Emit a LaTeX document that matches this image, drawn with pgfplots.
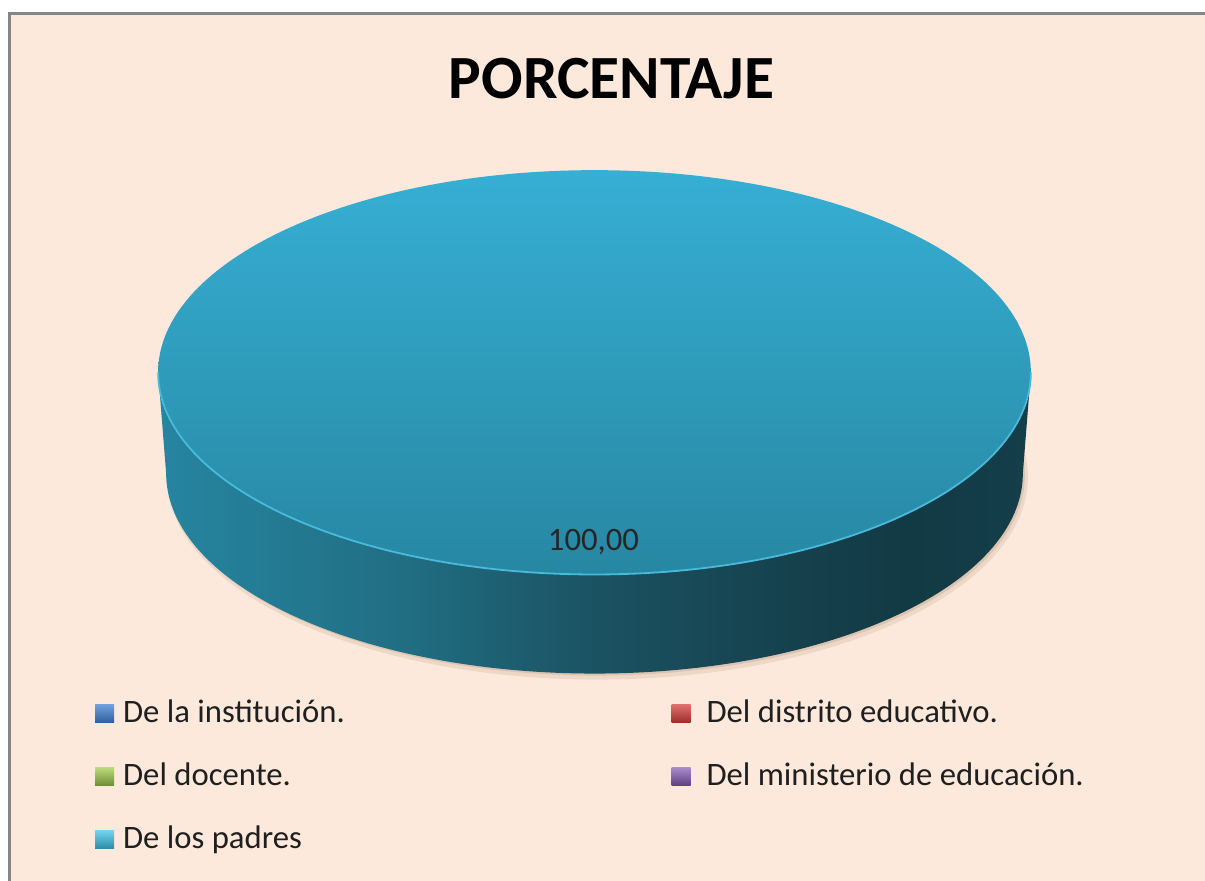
\documentclass[border=0pt]{standalone}
\usepackage{pgfplots}
\pgfplotsset{compat=1.18}
\usepackage{pgfplotstable}
\usepackage{fontspec}
\setmainfont{Carlito}
\definecolor{bg}{HTML}{FDE9DB}
\definecolor{frame}{HTML}{868686}
\definecolor{topA}{HTML}{36AFD4}
\definecolor{topB}{HTML}{2787A2}
\definecolor{rim}{HTML}{48BADC}
\definecolor{s1}{HTML}{2685A1}
\definecolor{s2}{HTML}{216E83}
\definecolor{s3}{HTML}{1B5262}
\definecolor{s4}{HTML}{15404C}
\definecolor{s5}{HTML}{123A45}
\definecolor{s6}{HTML}{143E4A}
\definecolor{shadowc}{HTML}{C9AE9C}
% legend marker colours (Office palette)
\definecolor{c1a}{HTML}{6FA0DC}\definecolor{c1b}{HTML}{2F5E9E}
\definecolor{c2a}{HTML}{E0706C}\definecolor{c2b}{HTML}{9B2E2B}
\definecolor{c3a}{HTML}{BCD97A}\definecolor{c3b}{HTML}{6E8E35}
\definecolor{c4a}{HTML}{A88ACB}\definecolor{c4b}{HTML}{5A4080}
\definecolor{c5a}{HTML}{72D3EE}\definecolor{c5b}{HTML}{2C8CA8}
\pgfdeclarehorizontalshading{sideshade}{100bp}{color(0bp)=(s1); color(25bp)=(s1); color(39bp)=(s2); color(50bp)=(s3); color(62bp)=(s4); color(68bp)=(s5); color(75bp)=(s6); color(100bp)=(s6)}

\pgfplotstableread{
slice value
1 0
2 0
3 0
4 0
5 100
}\slicetable

\begin{document}
\begin{tikzpicture}
\begin{axis}[
  scale only axis, width=602.5bp, height=440bp,
  xmin=0, xmax=1205, ymin=0, ymax=880,
  hide axis, clip=false,
  legend columns=2,
  legend cell align=left,
  legend image code/.code={\shade[#1, draw=none] (0bp,-4bp) rectangle (9.5bp,5bp);},
  legend style={draw=none, fill=none, inner sep=0pt, outer sep=0pt,
    at={(axis cs:95,182)}, anchor=north west, row sep=15.5bp,
    nodes={inner sep=0pt, outer sep=0pt, text height=12bp, text depth=4bp,
      font=\fontsize{16.4}{19}\selectfont, text=black!88},
    /tikz/column 1/.style={column sep=4.5bp},
    /tikz/column 2/.style={column sep=0bp},
    /tikz/column 3/.style={column sep=8bp}},
]
% background and frame (drawn past the page edge; the page is clipped below)
\fill[white] (-10,-10) rectangle (1225,895);
\fill[bg] (10,-10) rectangle (1225,866);
\fill[frame] (7.5,-10) rectangle (10.5,868.5);
\fill[frame] (7.5,865.5) rectangle (1225,868.5);

% pie: the only non-zero slice (value 100 = 360 degrees)
\pgfplotstablegetelem{4}{value}\of\slicetable
\let\padres\pgfplotsretval
% soft shadow
\fill[shadowc, opacity=0.3] (597,403) ellipse[x radius=430, y radius=202];
\fill[shadowc, opacity=0.45] (596,405) ellipse[x radius=428, y radius=200];
% side of the cylinder
\shade[shading=sideshade] (158,508) -- (166,407) -- (1022,407) -- (1030,508) -- cycle
  (594,407) ellipse[x radius=428, y radius=200];
% top face
\shade[top color=topA, bottom color=topB] (594,508) ellipse[x radius=436, y radius=202];
\draw[rim, line width=0.9bp] (158,508) arc[start angle=180, end angle=360, x radius=436, y radius=202];

\node[anchor=base, font=\fontsize{16.4}{19}\selectfont, text=black!85] at (axis cs:593,330)
  {\pgfmathprintnumber[fixed, fixed zerofill, precision=2, use comma, assume math mode=true]{\padres}};

% title
\node[anchor=base, font=\bfseries\fontsize{30.8}{36}\selectfont] at (axis cs:611,782) {PORCENTAJE};

% legend
\addlegendimage{top color=c1a, bottom color=c1b}
\addlegendentry{\makebox[274bp][l]{De la institución.}}
\addlegendimage{top color=c2a, bottom color=c2b}
\addlegendentry{Del distrito educativo.}
\addlegendimage{top color=c3a, bottom color=c3b}
\addlegendentry{\makebox[274bp][l]{Del docente.}}
\addlegendimage{top color=c4a, bottom color=c4b}
\addlegendentry{Del ministerio de educación.}
\addlegendimage{top color=c5a, bottom color=c5b}
\addlegendentry{\makebox[274bp][l]{De los padres}}
\end{axis}
\pgfresetboundingbox
\path (0,0) rectangle (602bp,440bp);
\end{tikzpicture}
\end{document}
